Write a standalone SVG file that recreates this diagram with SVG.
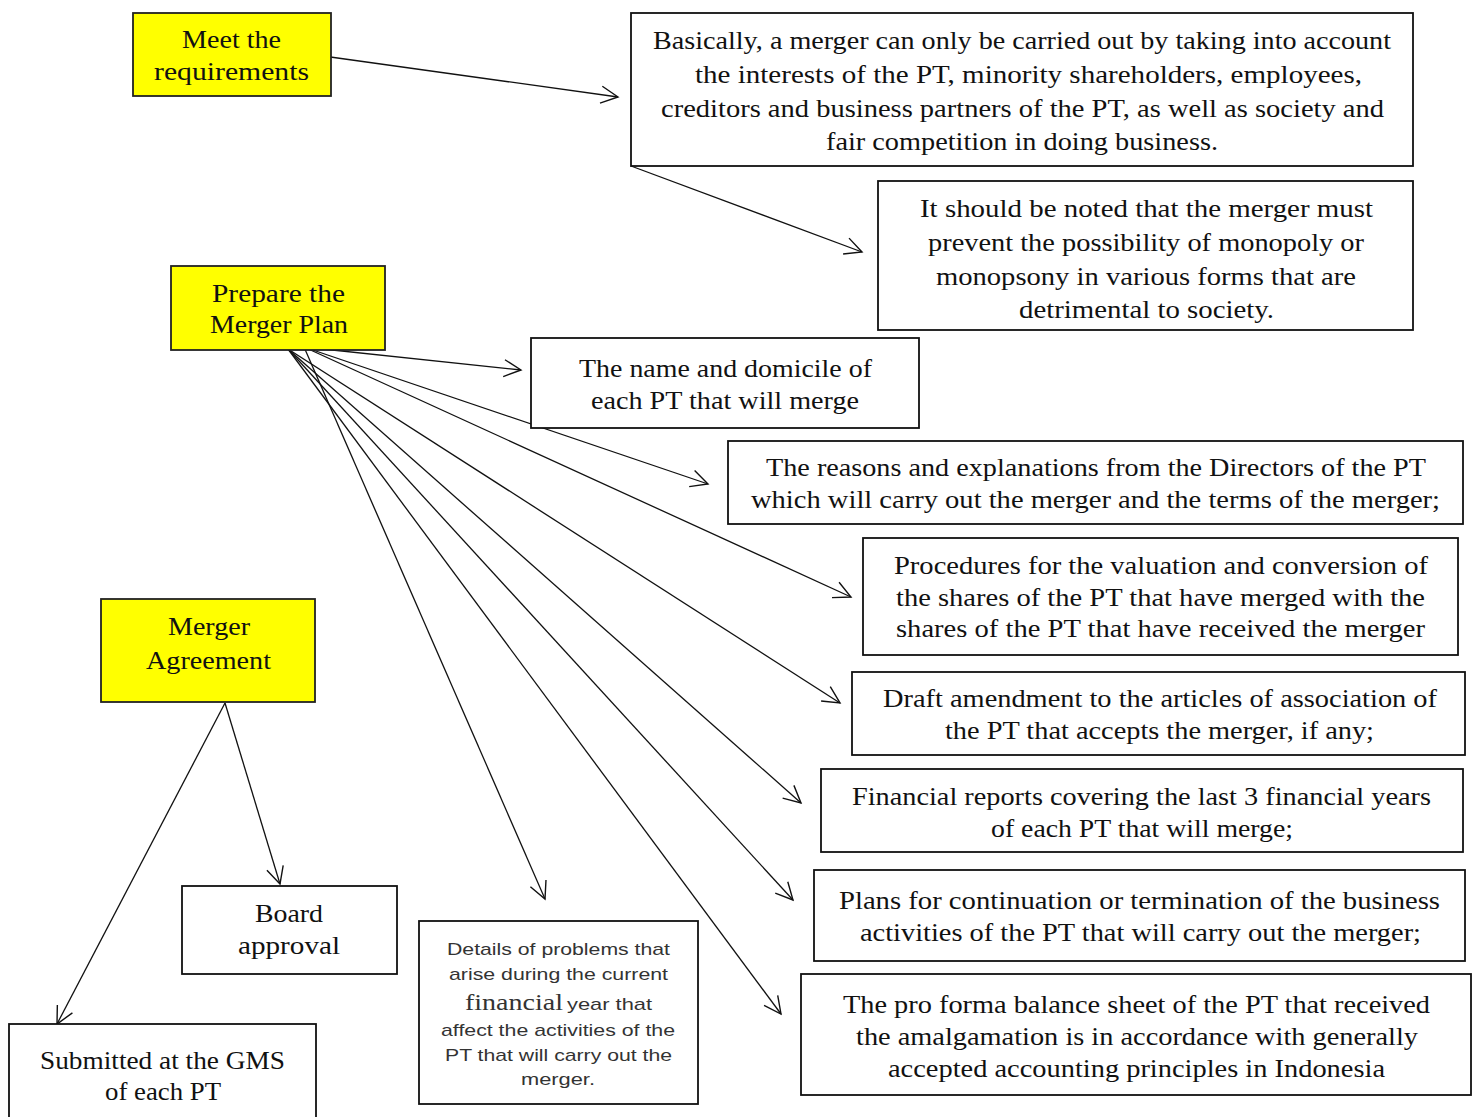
<svg xmlns="http://www.w3.org/2000/svg" width="1474" height="1117" viewBox="0 0 1474 1117">
<defs>
<marker id="arr" markerUnits="userSpaceOnUse" markerWidth="22" markerHeight="22" viewBox="0 0 22 22" refX="19" refY="11" orient="auto">
<path d="M2,2.5 L19,11 L2,19.5" fill="none" stroke="#111" stroke-width="1.4"/>
</marker>
</defs>
<style>
.box{fill:#fff;stroke:#111;stroke-width:1.8}
.hl{fill:#ffff00;stroke:#222;stroke-width:1.8}
.t{font-family:"Liberation Serif","DejaVu Serif",serif;font-size:26px;fill:#111}
.s{font-family:"Liberation Sans",Arial,sans-serif;font-size:17px;fill:#333}
.sf{font-family:"Liberation Serif","DejaVu Serif",serif;font-size:24px;fill:#333}
.c{fill:none;stroke:#111;stroke-width:1.3;marker-end:url(#arr)}
</style>
<rect width="1474" height="1117" fill="#fff"/>
<g id="connectors">
<path class="c" d="M316,55 L618,97"/>
<path class="c" d="M631,166 L862,252"/>
<path class="c" d="M304,347 L521,370"/>
<path class="c" d="M304,347 L708,484"/>
<path class="c" d="M304,347 L851,597"/>
<path class="c" d="M288,349 L840,703"/>
<path class="c" d="M288,349 L801,803"/>
<path class="c" d="M288,349 L793,900"/>
<path class="c" d="M288,349 L781,1014"/>
<path class="c" d="M304,347 L545,899"/>
<path class="c" d="M225,703 L280,884"/>
<path class="c" d="M225,703 L57,1024"/>
</g>
<g id="meet">
<rect class="hl" x="133" y="13" width="198" height="83"/>
<text class="t" x="182" y="48" textLength="99" lengthAdjust="spacingAndGlyphs">Meet the</text>
<text class="t" x="154" y="80" textLength="155" lengthAdjust="spacingAndGlyphs">requirements</text>
</g>
<g id="basically">
<rect class="box" x="631" y="13" width="782" height="153"/>
<text class="t" x="653" y="49" textLength="738" lengthAdjust="spacingAndGlyphs">Basically, a merger can only be carried out by taking into account</text>
<text class="t" x="695" y="83" textLength="667" lengthAdjust="spacingAndGlyphs">the interests of the PT, minority shareholders, employees,</text>
<text class="t" x="661" y="117" textLength="723" lengthAdjust="spacingAndGlyphs">creditors and business partners of the PT, as well as society and</text>
<text class="t" x="826" y="150" textLength="392" lengthAdjust="spacingAndGlyphs">fair competition in doing business.</text>
</g>
<g id="monopoly">
<rect class="box" x="878" y="181" width="535" height="149"/>
<text class="t" x="920" y="217" textLength="453" lengthAdjust="spacingAndGlyphs">It should be noted that the merger must</text>
<text class="t" x="928" y="251" textLength="436" lengthAdjust="spacingAndGlyphs">prevent the possibility of monopoly or</text>
<text class="t" x="936" y="285" textLength="420" lengthAdjust="spacingAndGlyphs">monopsony in various forms that are</text>
<text class="t" x="1019" y="318" textLength="255" lengthAdjust="spacingAndGlyphs">detrimental to society.</text>
</g>
<g id="prepare">
<rect class="hl" x="171" y="266" width="214" height="84"/>
<text class="t" x="212" y="302" textLength="133" lengthAdjust="spacingAndGlyphs">Prepare the</text>
<text class="t" x="210" y="333" textLength="138" lengthAdjust="spacingAndGlyphs">Merger Plan</text>
</g>
<g id="name">
<rect class="box" x="531" y="338" width="388" height="90"/>
<text class="t" x="579" y="377" textLength="293" lengthAdjust="spacingAndGlyphs">The name and domicile of</text>
<text class="t" x="591" y="409" textLength="268" lengthAdjust="spacingAndGlyphs">each PT that will merge</text>
</g>
<g id="reasons">
<rect class="box" x="728" y="441" width="735" height="83"/>
<text class="t" x="766" y="476" textLength="660" lengthAdjust="spacingAndGlyphs">The reasons and explanations from the Directors of the PT</text>
<text class="t" x="751" y="508" textLength="689" lengthAdjust="spacingAndGlyphs">which will carry out the merger and the terms of the merger;</text>
</g>
<g id="procedures">
<rect class="box" x="863" y="538" width="595" height="117"/>
<text class="t" x="894" y="574" textLength="534" lengthAdjust="spacingAndGlyphs">Procedures for the valuation and conversion of</text>
<text class="t" x="896" y="606" textLength="529" lengthAdjust="spacingAndGlyphs">the shares of the PT that have merged with the</text>
<text class="t" x="896" y="637" textLength="529" lengthAdjust="spacingAndGlyphs">shares of the PT that have received the merger</text>
</g>
<g id="draft">
<rect class="box" x="852" y="672" width="613" height="83"/>
<text class="t" x="883" y="707" textLength="554" lengthAdjust="spacingAndGlyphs">Draft amendment to the articles of association of</text>
<text class="t" x="945" y="739" textLength="429" lengthAdjust="spacingAndGlyphs">the PT that accepts the merger, if any;</text>
</g>
<g id="financial">
<rect class="box" x="821" y="769" width="642" height="83"/>
<text class="t" x="852" y="805" textLength="579" lengthAdjust="spacingAndGlyphs">Financial reports covering the last 3 financial years</text>
<text class="t" x="991" y="837" textLength="302" lengthAdjust="spacingAndGlyphs">of each PT that will merge;</text>
</g>
<g id="plans">
<rect class="box" x="814" y="870" width="651" height="91"/>
<text class="t" x="839" y="909" textLength="601" lengthAdjust="spacingAndGlyphs">Plans for continuation or termination of the business</text>
<text class="t" x="860" y="941" textLength="561" lengthAdjust="spacingAndGlyphs">activities of the PT that will carry out the merger;</text>
</g>
<g id="proforma">
<rect class="box" x="801" y="974" width="670" height="121"/>
<text class="t" x="843" y="1013" textLength="587" lengthAdjust="spacingAndGlyphs">The pro forma balance sheet of the PT that received</text>
<text class="t" x="856" y="1045" textLength="562" lengthAdjust="spacingAndGlyphs">the amalgamation is in accordance with generally</text>
<text class="t" x="888" y="1077" textLength="497" lengthAdjust="spacingAndGlyphs">accepted accounting principles in Indonesia</text>
</g>
<g id="agreement">
<rect class="hl" x="101" y="599" width="214" height="103"/>
<text class="t" x="168" y="635" textLength="82" lengthAdjust="spacingAndGlyphs">Merger</text>
<text class="t" x="146" y="669" textLength="125" lengthAdjust="spacingAndGlyphs">Agreement</text>
</g>
<g id="board">
<rect class="box" x="182" y="886" width="215" height="88"/>
<text class="t" x="255" y="922" textLength="68" lengthAdjust="spacingAndGlyphs">Board</text>
<text class="t" x="238" y="954" textLength="102" lengthAdjust="spacingAndGlyphs">approval</text>
</g>
<g id="submitted">
<rect class="box" x="9" y="1024" width="307" height="110"/>
<text class="t" x="40" y="1069" textLength="245" lengthAdjust="spacingAndGlyphs">Submitted at the GMS</text>
<text class="t" x="105" y="1100" textLength="116" lengthAdjust="spacingAndGlyphs">of each PT</text>
</g>
<g id="details">
<rect class="box" x="419" y="921" width="279" height="183"/>
<text class="s" x="447" y="955" textLength="223" lengthAdjust="spacingAndGlyphs">Details of problems that</text>
<text class="s" x="449" y="980" textLength="219" lengthAdjust="spacingAndGlyphs">arise during the current</text>
<text x="465" y="1010"><tspan class="sf" textLength="98" lengthAdjust="spacingAndGlyphs">financial</tspan></text>
<text class="s" x="567" y="1010" textLength="85" lengthAdjust="spacingAndGlyphs">year that</text>
<text class="s" x="441" y="1036" textLength="234" lengthAdjust="spacingAndGlyphs">affect the activities of the</text>
<text class="s" x="445" y="1061" textLength="227" lengthAdjust="spacingAndGlyphs">PT that will carry out the</text>
<text class="s" x="521" y="1085" textLength="74" lengthAdjust="spacingAndGlyphs">merger.</text>
</g>
</svg>
